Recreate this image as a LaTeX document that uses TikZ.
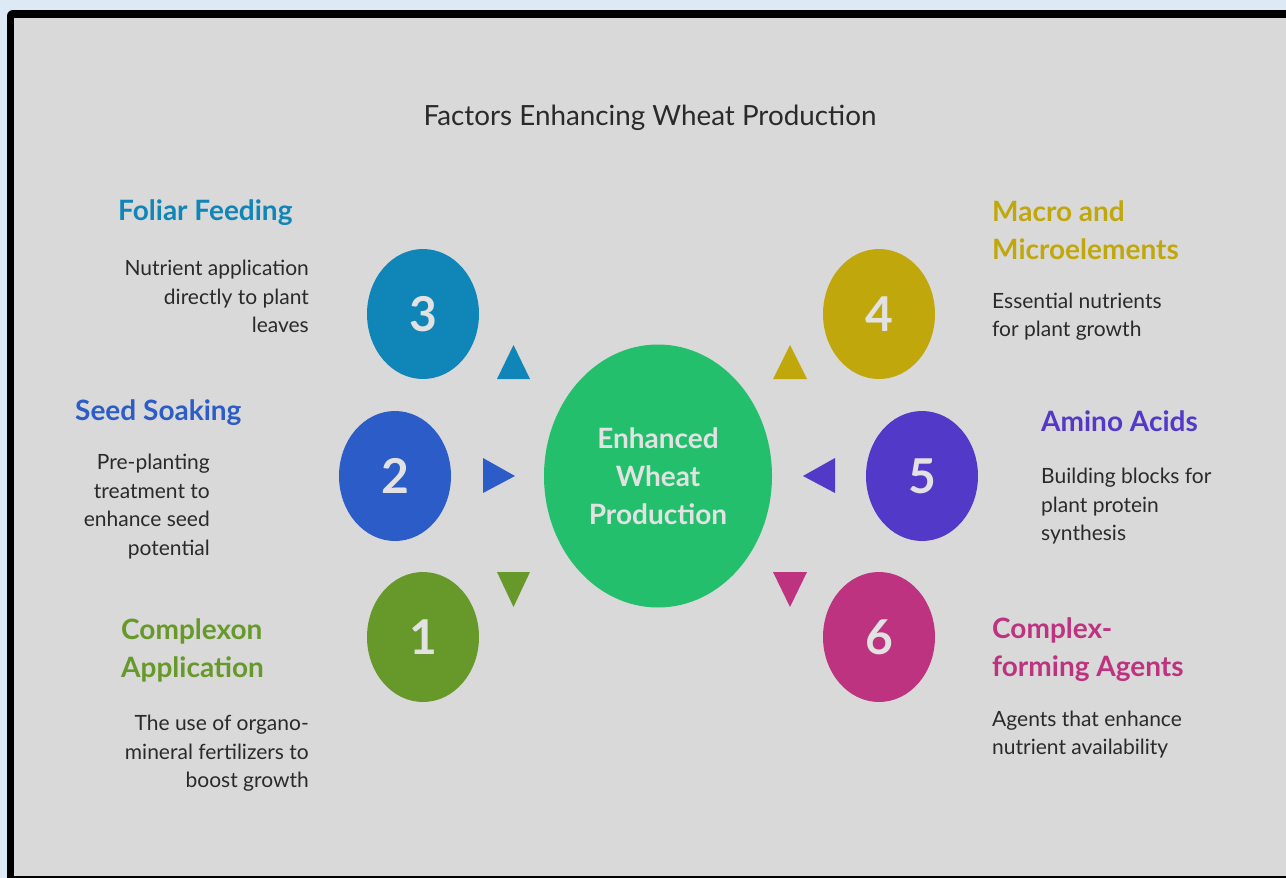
\documentclass[tikz,border=0pt]{standalone}
\usepackage{fontspec}
\setmainfont{Lato}
\usetikzlibrary{shapes.geometric}

\definecolor{bgblue}{HTML}{DDE9F5}
\definecolor{panel}{HTML}{D9D9D9}
\definecolor{inktext}{HTML}{2A2A2A}
\definecolor{numtext}{HTML}{E2E2E2}
\definecolor{hubgreen}{HTML}{24BF6C}
\definecolor{colone}{HTML}{67992A}
\definecolor{coltwo}{HTML}{2C5CC8}
\definecolor{colthree}{HTML}{1085B8}
\definecolor{colfour}{HTML}{C0A80C}
\definecolor{colfive}{HTML}{5239C8}
\definecolor{colsix}{HTML}{BD3380}

\tikzset{
	num/.style={shape=ellipse, fill=#1, minimum width=112pt, minimum height=130pt,
		inner sep=0pt, text=numtext, font=\fontsize{48}{48}\selectfont\bfseries},
	head/.style={inner sep=0pt, text=#1, align=left,
		font=\fontsize{28}{38}\selectfont\bfseries},
	desc/.style={inner sep=0pt, text=inktext, font=\fontsize{21}{28.5}\selectfont}
}

\begin{document}
\begin{tikzpicture}[x=1pt,y=-1pt]

	\useasboundingbox (0,0) rectangle (1286,878);
	\fill[bgblue] (0,0) rectangle (1286,878);
	\fill[black, rounded corners=6pt] (7,10) rectangle (1320,900);
	\fill[panel] (14,18) rectangle (1310,876);

	\node[text=inktext, font=\fontsize{27.8}{27.8}\selectfont] (title) at (650,118) {Factors Enhancing Wheat Production};

	% centre
	\node[shape=ellipse, fill=hubgreen, minimum width=228pt, minimum height=263pt, inner sep=0pt,
		text=numtext, align=center, font=\fontsize{28}{38}\selectfont\bfseries] (hub) at (658,476) {Enhanced\\Wheat\\Production};

	% numbered circles
	\node[num=colthree] (n3) at (423,314) {3};
	\node[num=coltwo] (n2) at (395,476) {2};
	\node[num=colone] (n1) at (423,637) {1};
	\node[num=colfour] (n4) at (879,314) {4};
	\node[num=colfive] (n5) at (922,476) {5};
	\node[num=colsix] (n6) at (879,637) {6};

	% pointers
	\fill[colthree] (497,379) -- (530,379) -- (513.5,345) -- cycle;
	\fill[colfour] (773,379) -- (807,379) -- (790,345) -- cycle;
	\fill[coltwo] (483,458) -- (483,493) -- (515,476) -- cycle;
	\fill[colfive] (835,458) -- (835,493) -- (803,476) -- cycle;
	\fill[colone] (497,572) -- (530,572) -- (513.5,607) -- cycle;
	\fill[colsix] (773,572) -- (807,572) -- (790,607) -- cycle;

	% left labels
	\node[head=colthree, anchor=west] (h3) at (118,213) {Foliar Feeding};
	\node[desc, anchor=east, align=right] (d3) at (309,296.5) {Nutrient application\\directly to plant\\leaves};
	\node[head=coltwo, anchor=west] (h2) at (75,413) {Seed Soaking};
	\node[desc, anchor=east, align=right] (d2) at (210,506.5) {Pre-planting\\treatment to\\enhance seed\\potential};
	\node[head=colone, anchor=west] (h1) at (121,650) {Complexon\\Application};
	\node[desc, anchor=east, align=right] (d1) at (309,753.5) {The use of organo-\\mineral fertilizers to\\boost growth};

	% right labels
	\node[head=colfour, anchor=west] (h4) at (992,230) {Macro and\\Microelements};
	\node[desc, anchor=west, align=left] (d4) at (992,316.5) {Essential nutrients\\for plant growth};
	\node[head=colfive, anchor=west] (h5) at (1041,421) {Amino Acids};
	\node[desc, anchor=west, align=left] (d5) at (1041,506.5) {Building blocks for\\plant protein\\synthesis};
	\node[head=colsix, anchor=west] (h6) at (992,650) {Complex-\\forming Agents};
	\node[desc, anchor=west, align=left] (d6) at (992,734.5) {Agents that enhance\\nutrient availability};

\end{tikzpicture}
\end{document}
